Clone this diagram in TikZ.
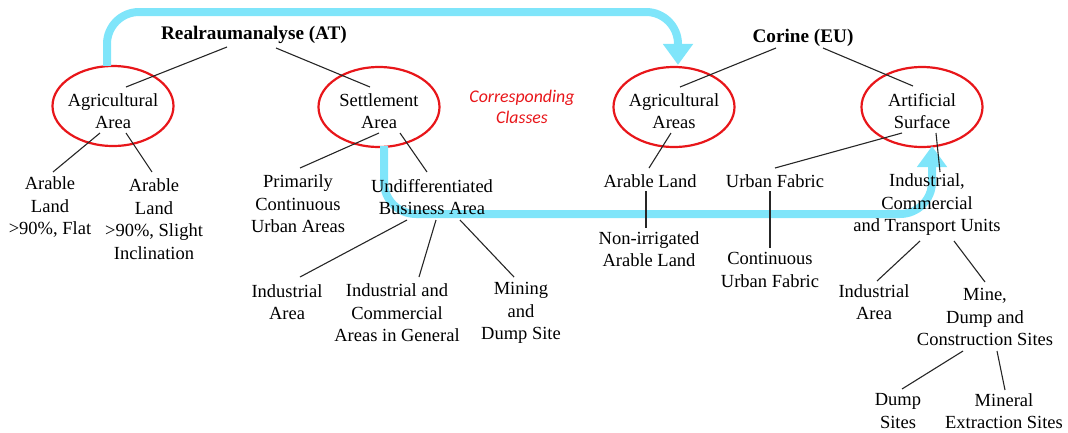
\documentclass[tikz,border=0pt]{standalone}
\usepackage{fontspec}
\setmainfont{Liberation Serif}
\newfontfamily\calfont{Carlito}
\usetikzlibrary{arrows.meta,calc,shapes.geometric}
\definecolor{cyanarrow}{RGB}{127,229,250}
\definecolor{ellred}{RGB}{232,22,26}
\tikzset{
  lbl/.style={align=center,inner sep=0pt,font=\fontsize{18.5}{22.5}\selectfont},
  ttl/.style={align=center,inner sep=0pt,font=\fontsize{19.2}{22}\selectfont\bfseries},
  ring/.style={draw=ellred,line width=2.2pt,ellipse,minimum width=#1,minimum height=80pt,inner sep=0pt},
  ring/.default=121pt,
  edge/.style={draw=black!85,line width=1.1pt},
  flow/.style={draw=cyanarrow,line width=8pt,rounded corners=32pt,-{Triangle[width=29pt,length=21pt]}},
}
\begin{document}
\begin{tikzpicture}[x=1pt,y=-1pt]
\useasboundingbox (0,0) rectangle (1068,432);
% ellipses
\node[ring] (aae) at (113,106) {};
\node[ring] (sae) at (379,107) {};
\node[ring] (cae) at (674,107) {};
\node[ring] (ase) at (922,107) {};
% cyan arrows (behind text)
\coordinate (s1) at ($(aae.north)+(-6,1)$);
\coordinate (t1) at ($(cae.north)+(4,-1)$);
\draw[flow] (s1) -- (s1 |- 0,12) -- (t1 |- 0,12) -- (t1);
\coordinate (s2) at ($(sae.south)+(5,-2)$);
\coordinate (t2) at ($(ase.south)+(10,-2)$);
\draw[flow] (s2) -- (s2 |- 0,214) -- (t2 |- 0,214) -- (t2);
% titles
\node[ttl] (ra) at (254,35) {Realraumanalyse (AT)};
\node[ttl] (co) at (803,38) {Corine (EU)};
% level 1
\node[lbl] (aa) at (113,111) {Agricultural\\Area};
\node[lbl] (sa) at (379,111) {Settlement\\Area};
\node[lbl] (ca) at (674,111) {Agricultural\\Areas};
\node[lbl] (as) at (922,111) {Artificial\\Surface};
\node[align=center,inner sep=0pt,text=ellred,font=\calfont\itshape\fontsize{17.8}{21.5}\selectfont] (cc) at (522,107) {Corresponding\\Classes};
% level 2
\node[lbl] (al1) at (50,207) {Arable\\Land\\>90\%, Flat};
\node[lbl] (al2) at (154,219) {Arable\\Land\\>90\%, Slight\\Inclination};
\node[lbl] (pc) at (298,204) {Primarily\\Continuous\\Urban Areas};
\node[lbl] (ub) at (432,197) {Undifferentiated\\Business Area};
\node[lbl] (ia1) at (287,302) {Industrial\\Area};
\node[lbl] (ic) at (397,313) {Industrial and\\Commercial\\Areas in General};
\node[lbl] (md) at (521,313) {Mining\\and\\Dump Site};
\node[lbl] (arl) at (650,181) {Arable Land};
\node[lbl] (nia) at (649,249) {Non-irrigated\\Arable Land};
\node[lbl] (uf) at (775,181) {Urban Fabric};
\node[lbl] (cuf) at (770,270) {Continuous\\Urban Fabric};
\node[lbl] (ict) at (927,205) {Industrial,\\Commercial\\and Transport Units};
\node[lbl] (ia2) at (874,302) {Industrial\\Area};
\node[lbl] (mdc) at (985,317) {Mine,\\Dump and\\Construction Sites};
\node[lbl] (ds) at (898,411) {Dump\\Sites};
\node[lbl] (me) at (1004,411) {Mineral\\Extraction Sites};
% connectors
\draw[edge] ($(ra)+(-27,12)$) -- ($(aa)+(13,-24)$);
\draw[edge] ($(ra)+(22,13)$) -- ($(sa)+(-9,-24)$);
\draw[edge] ($(co)+(-27,10)$) -- ($(ca)+(6,-24)$);
\draw[edge] ($(co)+(20,10)$) -- ($(as)+(-9,-25)$);
\draw[edge] ($(aa)+(-13,22)$) -- ($(al1)+(3,-35)$);
\draw[edge] ($(aa)+(13,22)$) -- ($(al2)+(-2,-47)$);
\draw[edge] ($(sa)+(0,22)$) -- ($(pc)+(2,-36)$);
\draw[edge] ($(sa)+(21,22)$) -- ($(ub)+(-5,-25)$);
\draw[edge] ($(ub)+(-25,23)$) -- ($(ia1)+(13,-25)$);
\draw[edge] ($(ub)+(4,23)$) -- ($(ic)+(22,-36)$);
\draw[edge] ($(ub)+(28,23)$) -- ($(md)+(-7,-36)$);
\draw[edge] ($(ca)+(-3,22)$) -- ($(arl)+(-1,-13)$);
\draw[edge] ($(arl)+(-4,10)$) -- ($(nia)+(-3,-21)$);
\draw[edge] ($(as)+(-20,22)$) -- ($(uf)+(0,-13)$);
\draw[edge] ($(uf)+(-5,10)$) -- ($(cuf)+(0,-22)$);
\draw[edge] ($(as)+(14,22)$) -- ($(ict)+(13,-33)$);
\draw[edge] ($(ict)+(-7,36)$) -- ($(ia2)+(3,-21)$);
\draw[edge] ($(ict)+(27,36)$) -- ($(mdc)+(0,-35)$);
\draw[edge] ($(mdc)+(-22,34)$) -- ($(ds)+(4,-22)$);
\draw[edge] ($(mdc)+(12,34)$) -- ($(me)+(1,-21)$);
\end{tikzpicture}
\end{document}
